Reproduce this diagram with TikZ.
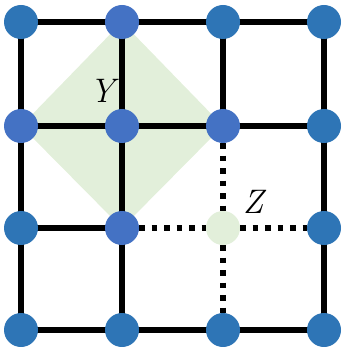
\documentclass[tikz,border=0pt]{standalone}
\usepackage{fontspec}
\usepackage{tikz}
\usetikzlibrary{backgrounds}
\definecolor{sitedark}{HTML}{2E75B6}
\definecolor{sitelight}{HTML}{4472C4}
\definecolor{areagreen}{HTML}{E2EFDA}
\tikzset{
  gr site/.style={circle, minimum size=34pt, inner sep=0pt},
  gr outer/.style={gr site, fill=sitedark},
  gr inner/.style={gr site, fill=sitelight},
  gr empty/.style={gr site, fill=areagreen},
  gr bond/.style={line width=5.5pt, black},
  gr cut/.style={gr bond, dash pattern=on 5.5pt off 7pt},
  gr lbl/.style={font=\fontsize{34}{40}\selectfont\itshape, inner sep=0pt},
}
\begin{document}
\begin{tikzpicture}[x=1pt, y=-1pt]
  \useasboundingbox (0,0) rectangle (342,347);
  % the sixteen sites, row by row
  \foreach \n/\x/\y/\s in {s00/21/22/outer, s10/122/22/inner, s20/223/22/outer, s30/324/22/outer,
                           s01/21/126/inner, s11/122/126/inner, s21/223/126/inner, s31/324/126/outer,
                           s02/21/228/outer, s12/122/228/inner, s22/223/228/empty, s32/324/228/outer,
                           s03/21/330/outer, s13/122/330/outer, s23/223/330/outer, s33/324/330/outer}
    \node[gr \s] (\n) at (\x,\y) {};
  \node[gr lbl] (lblY) at (102,91) {Y};
  \node[gr lbl] (lblZ) at (253,202) {Z};
  % region and bonds behind the sites
  \begin{scope}[on background layer]
    \fill[areagreen] (s10.center) -- (s21.center) -- (s12.center) -- (s01.center) -- cycle;
    \foreach \a/\b in {s00/s10, s10/s20, s20/s30, s01/s11, s11/s21, s21/s31, s02/s12,
                       s03/s13, s13/s23, s23/s33, s00/s01, s01/s02, s02/s03, s10/s11,
                       s11/s12, s12/s13, s20/s21, s30/s31, s31/s32, s32/s33}
      \draw[gr bond] (\a.center) -- (\b.center);
    \foreach \a/\b in {s21/s22, s12/s22, s22/s32, s22/s23}
      \draw[gr cut] (\a) -- (\b);
  \end{scope}
\end{tikzpicture}
\end{document}
